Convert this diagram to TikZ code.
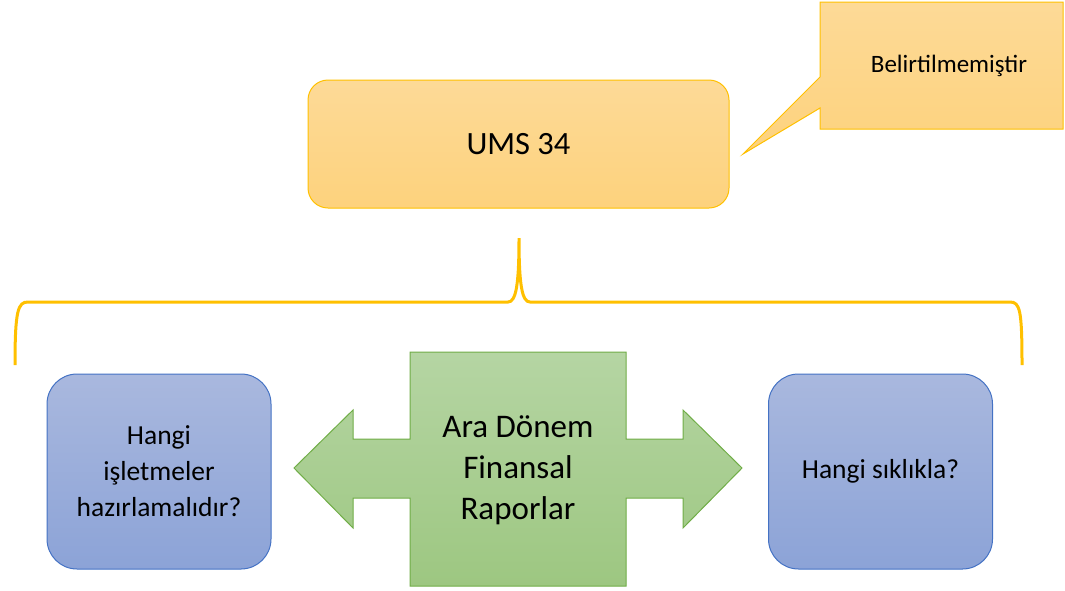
\documentclass[tikz,border=0pt]{standalone}
\usepackage{fontspec}
\setmainfont{Carlito}
\usepackage{xcolor}
\definecolor{umsline}{HTML}{FFC000}
\definecolor{umstop}{HTML}{FDDA97}
\definecolor{umsbot}{HTML}{FDD27D}
\definecolor{araline}{HTML}{70AD47}
\definecolor{aratop}{HTML}{B5D5A3}
\definecolor{arabot}{HTML}{9DC781}
\definecolor{soruline}{HTML}{4472C4}
\definecolor{sorutop}{HTML}{A9B8DE}
\definecolor{sorubot}{HTML}{8CA3D7}
\usetikzlibrary{positioning,calc}

\begin{document}
\begin{tikzpicture}[x=1pt, y=-1pt,
		soru/.style={draw=soruline, line width=1pt, rounded corners=30pt, top color=sorutop, bottom color=sorubot, minimum width=224pt, minimum height=195pt, inner sep=0pt, align=center, font=\fontsize{27.5}{36}\selectfont},
		sari/.style={draw=umsline, line width=1pt, top color=umstop, bottom color=umsbot}]
				\useasboundingbox (0,0) rectangle (1065,590);
				\node[sari, rounded corners=20pt, minimum width=421pt, minimum height=128pt, inner sep=0pt, font=\fontsize{32.5}{39}\selectfont] (ums) at (518.5,144) {UMS 34};
				\path[sari, line join=miter] (820,2) -- (1063,2) -- (1063,129) -- (820,129) -- (820,108) -- (743,154) -- (820,77) -- cycle;
				\node[font=\fontsize{25}{30}\selectfont] (not) at (949,66) {Belirtilmemiştir};
				\draw[umsline, line width=3pt] (15,365) .. controls (15,310) and (18,302) .. (28,302) -- (508,302) .. controls (516,302) and (519,285) .. (519,238) .. controls (519,285) and (522,302) .. (530,302) -- (1010,302) .. controls (1020,302) and (1022,310) .. (1022,365);
				\path[draw=araline, line width=1pt, top color=aratop, bottom color=arabot] (410,352) -- (626,352) -- (626,439) -- (683,439) -- (683,410) -- (742,468) -- (683,528) -- (683,498) -- (626,498) -- (626,586) -- (410,586) -- (410,498) -- (353,498) -- (353,528) -- (294,468) -- (353,410) -- (353,439) -- (410,439) -- cycle;
				\node[align=center, font=\fontsize{33}{41}\selectfont] (ara) at (518,470) {Ara Dönem\\Finansal\\Raporlar};
				\node[soru] (kim) at (159,471.5) {Hangi\\işletmeler\\hazırlamalıdır?};
				\node[soru] (ne) at (880.5,471.5) {Hangi sıklıkla?};
			\end{tikzpicture}
\end{document}
